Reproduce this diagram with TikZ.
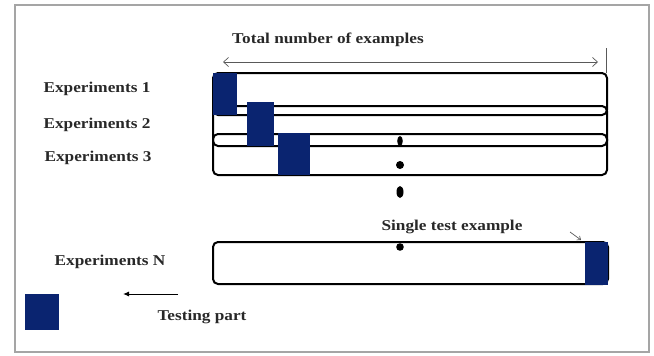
\documentclass[tikz,border=0pt]{standalone}
\usepackage{fontspec}
\setmainfont{Liberation Serif}
\usetikzlibrary{arrows.meta}
\definecolor{navy}{RGB}{10,36,112}
\definecolor{txt}{RGB}{40,40,40}
\definecolor{frame}{RGB}{165,165,165}
\begin{document}
\begin{tikzpicture}[x=1pt,y=-1pt,
  lbl/.style={font=\fontsize{15}{17}\selectfont\bfseries, text=txt, inner sep=0pt, xscale=1.15},
  row/.style={draw=black, line width=2pt, rounded corners=5pt},
  blue/.style={fill=navy, draw=none},
  dotm/.style={fill=black, draw=none},
  thin/.style={draw=gray!70!black, line width=0.7pt}]
\useasboundingbox (0,0) rectangle (654,356);
% outer frame
\draw[frame, line width=2pt] (15,5) rectangle (649,352);
% labels
\node[lbl] (t) at (328,40) {Total number of examples};
\node[lbl] (e1) at (97,89) {Experiments 1};
\node[lbl] (e2) at (97,125) {Experiments 2};
\node[lbl] (e3) at (98,158) {Experiments 3};
\node[lbl] (en) at (110,262) {Experiments N};
\node[lbl] (st) at (452,227) {Single test example};
\node[lbl] (tp) at (202,317) {Testing part};
% total arrow and marker line
\coordinate (aL) at (223,62);
\coordinate (aR) at (598,62);
\coordinate (vT) at (606,48);
\coordinate (vB) at (606,73);
\draw[thin, {Straight Barb[length=5pt,width=9pt]}-{Straight Barb[length=5pt,width=9pt]}] (aL) -- (aR);
\draw[thin] (vT) -- (vB);
% rows
\draw[row] (213,134) rectangle (607,175);
\draw[row] (213,106) rectangle (607,146);
\draw[row] (213,73) rectangle (607,115);
% testing squares
\fill[blue] (213,73) rectangle (237,115);
\fill[blue] (247,102) rectangle (274,146);
\fill[blue] (278,133) rectangle (310,175);
% dots
\fill[dotm] (400,141) ellipse (2.8 and 5);
\fill[dotm] (400,165) circle (4);
\fill[dotm] (400,192) ellipse (3.5 and 6);
% bottom row
\draw[row] (213,242) rectangle (608,284);
\fill[blue] (585,242) rectangle (608,285);
\fill[dotm] (400,247) circle (3.8);
% small pointer to the single test example
\coordinate (pA) at (570,232);
\coordinate (pB) at (581,240);
\draw[thin, -{Straight Barb[length=3pt,width=5pt]}] (pA) -- (pB);
% legend
\fill[blue] (25,294) rectangle (59,330);
\coordinate (lA) at (178,294);
\coordinate (lB) at (123,294);
\draw[line width=1pt, -{Latex[length=6pt,width=5pt]}] (lA) -- (lB);
\end{tikzpicture}
\end{document}
